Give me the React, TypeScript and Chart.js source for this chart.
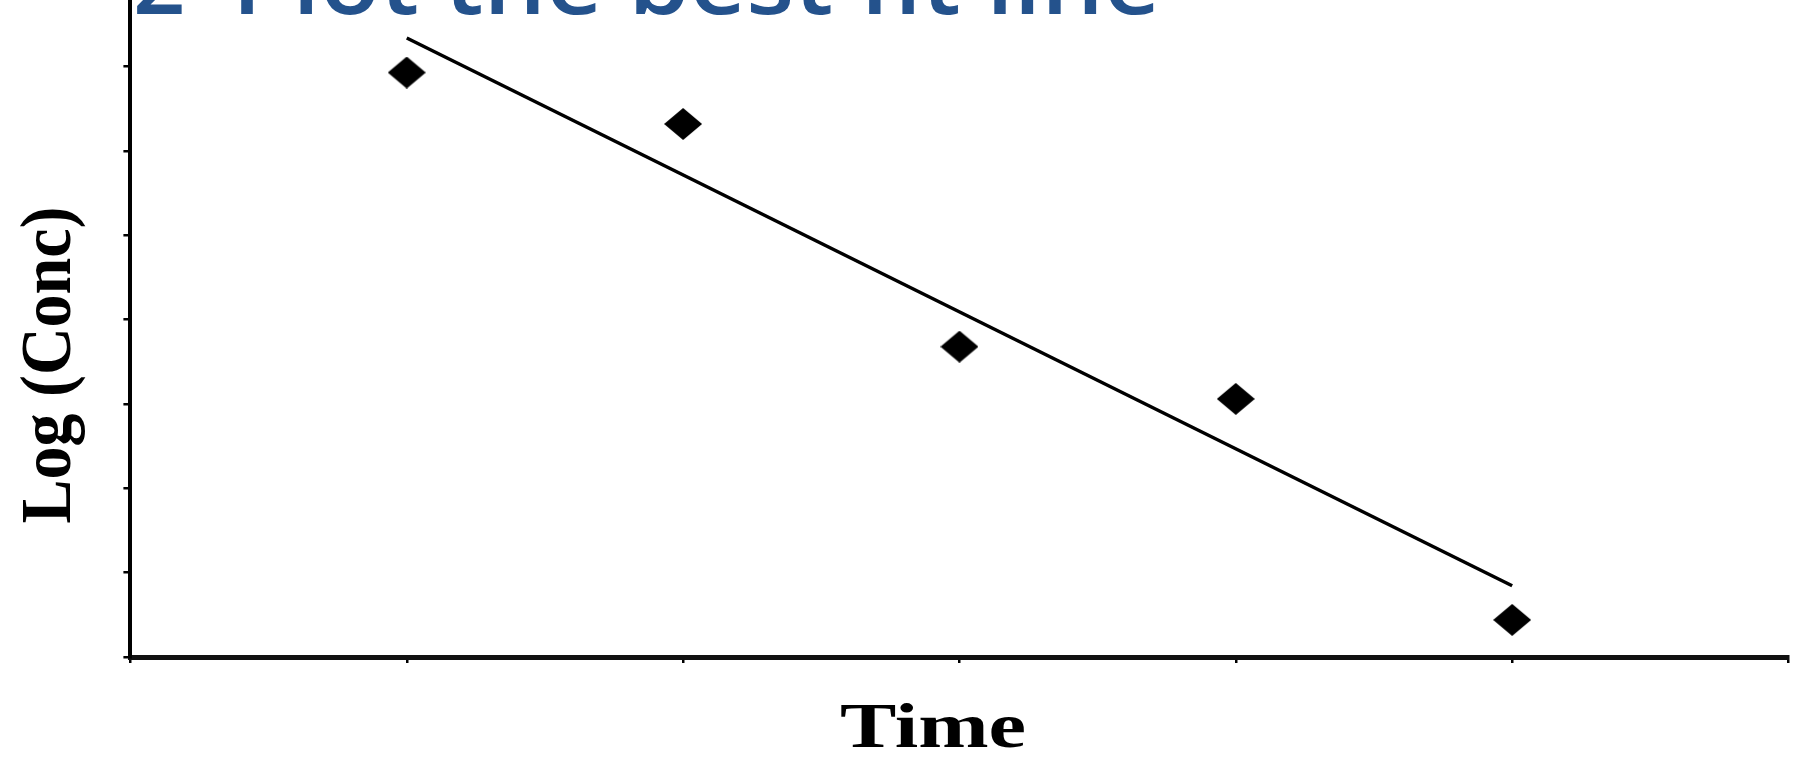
import React, { useEffect, useRef } from "react";
import { Chart, registerables } from "chart.js";

Chart.register(...registerables);

// Data
const timeValues = [1, 2, 3, 4, 5];
const logConc = [6.93, 6.32, 3.68, 3.06, 0.44];
const fitX = [1, 5];
const fitY = [7.34, 0.845];
const xTicks = [0, 1, 2, 3, 4, 5, 6];
const yTicks = [0, 1, 2, 3, 4, 5, 6, 7];

const titleNumber = "2";
const titleText = "Plot the best fit line";
const xAxisTitle = "Time";
const yAxisTitle = "Log (Conc)";

function makeDiamond(): HTMLCanvasElement {
  const c = document.createElement("canvas");
  const w = 38;
  const h = 32;
  c.width = w;
  c.height = h;
  const g = c.getContext("2d")!;
  g.fillStyle = "#000";
  g.beginPath();
  g.moveTo(w / 2, 0);
  g.lineTo(w, h / 2);
  g.lineTo(w / 2, h);
  g.lineTo(0, h / 2);
  g.closePath();
  g.fill();
  return c;
}

const textPlugin = {
  id: "slideText",
  beforeDraw(chart: any) {
    const ctx = chart.ctx;
    ctx.save();
    ctx.fillStyle = "#24528C";
    ctx.textBaseline = "alphabetic";
    ctx.textAlign = "left";
    ctx.font = '600 92px "Open Sans"';
    ctx.save();
    ctx.translate(133, 14);
    ctx.scale(1.0, 1);
    ctx.fillText(titleNumber, 0, 0);
    ctx.restore();
    ctx.save();
    ctx.translate(232, 14);
    ctx.scale(1.07, 1);
    ctx.fillText(titleText, 0, 0);
    ctx.restore();
    ctx.restore();
  },
  afterDraw(chart: any) {
    const ctx = chart.ctx;
    ctx.save();
    ctx.fillStyle = "#000";
    ctx.textBaseline = "alphabetic";
    ctx.textAlign = "center";
    ctx.font = 'bold 64px "Liberation Serif"';
    // x axis title
    ctx.save();
    ctx.translate(933, 747);
    ctx.scale(1.32, 1);
    ctx.fillText(xAxisTitle, 0, 0);
    ctx.restore();
    // y axis title
    ctx.save();
    ctx.font = 'bold 66px "Liberation Serif"';
    ctx.translate(53, 365);
    ctx.scale(1.1, 1);
    ctx.rotate(-Math.PI / 2);
    ctx.fillText(yAxisTitle, 0, 15.5);
    ctx.restore();
    ctx.restore();
  },
};

export default function App() {
  const ref = useRef<HTMLCanvasElement | null>(null);

  useEffect(() => {
    if (!ref.current) return;
    const diamond = makeDiamond();
    const chart = new Chart(ref.current, {
      type: "scatter",
      data: {
        datasets: [
          {
            label: "data",
            data: timeValues.map((x, i) => ({ x, y: logConc[i] })),
            pointStyle: diamond as any,
            pointRadius: 15,
            backgroundColor: "#000",
            borderColor: "#000",
            showLine: false,
            clip: false as any,
          },
          {
            label: "fit",
            data: fitX.map((x, i) => ({ x, y: fitY[i] })),
            showLine: true,
            borderColor: "#000",
            borderWidth: 3.5,
            pointRadius: 0,
            clip: false as any,
          },
        ],
      },
      options: {
        animation: false,
        responsive: true,
        maintainAspectRatio: false,
        layout: {
          autoPadding: false,
          padding: { left: 0, right: 5.5, top: 0, bottom: 0 },
        },
        plugins: {
          legend: { display: false },
          tooltip: { enabled: false },
          title: { display: false },
        },
        scales: {
          x: {
            type: "linear",
            min: xTicks[0],
            max: xTicks[xTicks.length - 1],
            afterBuildTicks: (s: any) => {
              s.ticks = xTicks.map((v) => ({ value: v }));
            },
            afterFit: (s: any) => {
              s.height = 101;
              s.paddingLeft = 0;
              s.paddingRight = 0;
            },
            ticks: { display: false },
            grid: {
              drawOnChartArea: false,
              drawTicks: true,
              tickLength: 6,
              color: "#000",
              lineWidth: 2.5,
            },
            border: { display: true, color: "#111", width: 5 },
          },
          y: {
            type: "linear",
            min: 0,
            max: 7.79,
            afterBuildTicks: (s: any) => {
              s.ticks = yTicks.map((v) => ({ value: v }));
            },
            afterFit: (s: any) => {
              s.width = 130.4;
              s.paddingTop = 0;
              s.paddingBottom = 0;
            },
            ticks: { display: false },
            grid: {
              drawOnChartArea: false,
              drawTicks: true,
              tickLength: 7,
              color: "#000",
              lineWidth: 2.5,
            },
            border: { display: true, color: "#000", width: 4 },
          },
        },
      },
      plugins: [textPlugin],
    });
    return () => chart.destroy();
  }, []);

  return (
    <div
      style={{
        position: "fixed",
        left: 0,
        top: 0,
        width: 1794,
        height: 758,
        background: "#fff",
      }}
    >
      <canvas ref={ref} />
    </div>
  );
}
